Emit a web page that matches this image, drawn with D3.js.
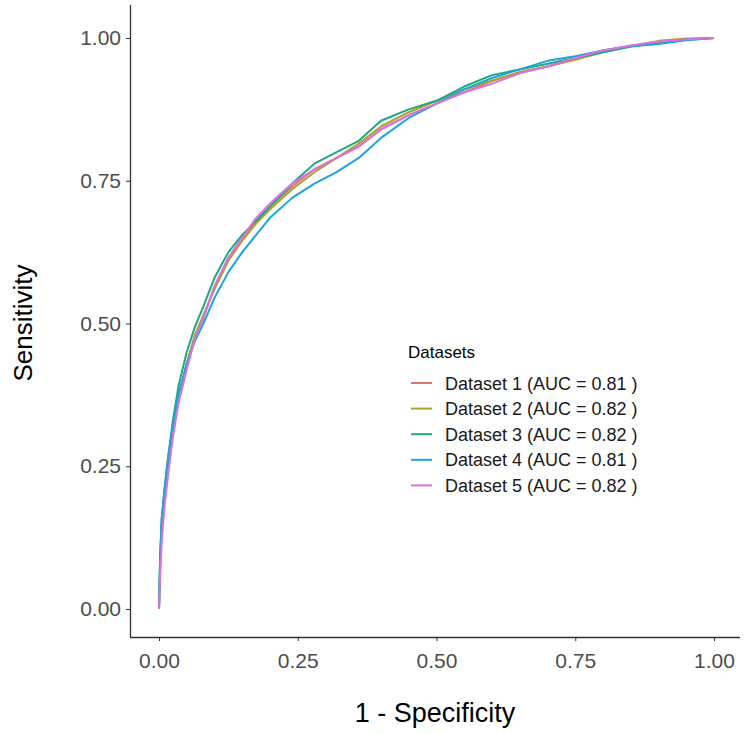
<!DOCTYPE html>
<html>
<head>
<meta charset="utf-8">
<script src="https://cdn.jsdelivr.net/npm/d3@7"></script>
<style>
  body { margin: 0; background: #fff; }
  text { font-family: "Liberation Sans", Arial, sans-serif; }
</style>
</head>
<body>
<script>
// shared false positive rate grid (1 - specificity)
var fprGrid = [0, 0.002, 0.005, 0.01, 0.017, 0.025, 0.035, 0.05, 0.065, 0.08,
  0.1, 0.125, 0.15, 0.175, 0.2, 0.24, 0.28, 0.32, 0.36, 0.4,
  0.45, 0.5, 0.55, 0.6, 0.65, 0.7, 0.75, 0.8, 0.85, 0.9, 0.95, 1];

// sensitivity per dataset
var tpr1 = [0, 0.08, 0.15, 0.20, 0.25, 0.31, 0.37, 0.43, 0.48, 0.51,
  0.565, 0.615, 0.65, 0.68, 0.705, 0.74, 0.77, 0.79, 0.81, 0.84,
  0.865, 0.885, 0.905, 0.925, 0.94, 0.95, 0.965, 0.978, 0.986, 0.993, 0.998, 1];
var tpr2 = [0, 0.07, 0.14, 0.19, 0.25, 0.31, 0.37, 0.43, 0.48, 0.515,
  0.56, 0.61, 0.645, 0.675, 0.70, 0.735, 0.765, 0.79, 0.815, 0.845,
  0.87, 0.89, 0.91, 0.925, 0.94, 0.95, 0.962, 0.975, 0.985, 0.995, 0.999, 1];
var tpr3 = [0, 0.09, 0.16, 0.21, 0.27, 0.33, 0.39, 0.45, 0.495, 0.53,
  0.58, 0.625, 0.655, 0.68, 0.705, 0.745, 0.78, 0.80, 0.82, 0.855,
  0.875, 0.89, 0.915, 0.935, 0.945, 0.955, 0.965, 0.975, 0.985, 0.99, 0.997, 1];
var tpr4 = [0, 0.09, 0.16, 0.21, 0.27, 0.32, 0.375, 0.43, 0.47, 0.50,
  0.545, 0.59, 0.625, 0.655, 0.685, 0.72, 0.745, 0.765, 0.79, 0.825,
  0.86, 0.885, 0.91, 0.93, 0.945, 0.96, 0.968, 0.978, 0.986, 0.99, 0.996, 1];
var tpr5 = [0, 0.06, 0.12, 0.18, 0.24, 0.30, 0.36, 0.42, 0.475, 0.51,
  0.565, 0.615, 0.65, 0.685, 0.71, 0.745, 0.77, 0.79, 0.81, 0.84,
  0.865, 0.885, 0.905, 0.92, 0.938, 0.95, 0.965, 0.978, 0.987, 0.994, 0.998, 1];

var seriesNames = ["Dataset 1 (AUC = 0.81 )", "Dataset 2 (AUC = 0.82 )",
  "Dataset 3 (AUC = 0.82 )", "Dataset 4 (AUC = 0.81 )", "Dataset 5 (AUC = 0.82 )"];
var seriesColors = ["#DC776F", "#A9A22A", "#1CA97F", "#1DA5D8", "#DB70DF"];
var tickValues = [0, 0.25, 0.5, 0.75, 1];

var W = 750, H = 734;

function main() {
  var allTpr = [tpr1, tpr2, tpr3, tpr4, tpr5];
  var series = allTpr.map(function(t, i) {
    return { name: seriesNames[i], color: seriesColors[i],
      values: fprGrid.map(function(f, j) { return [f, t[j]]; }) };
  });

  var svg = d3.select("body").append("svg")
    .attr("width", W)
    .attr("height", H);

  var x = d3.scaleLinear().domain([0, 1]).range([159, 714]);
  var y = d3.scaleLinear().domain([0, 1]).range([609, 38]);

  // axes
  var xAxis = d3.axisBottom(x).tickValues(tickValues)
    .tickFormat(d3.format(".2f")).tickSize(4).tickPadding(5);
  var yAxis = d3.axisLeft(y).tickValues(tickValues)
    .tickFormat(d3.format(".2f")).tickSize(4).tickPadding(5);

  var gx = svg.append("g").attr("transform", "translate(0,637)").call(xAxis);
  var gy = svg.append("g").attr("transform", "translate(130,0)").call(yAxis);

  gx.select(".domain").attr("d", "M130,0.5H740");
  gy.select(".domain").attr("d", "M0.5,5V637");

  [gx, gy].forEach(function(g) {
    g.select(".domain").attr("stroke", "#333").attr("stroke-width", 1.3);
    g.selectAll(".tick line").attr("stroke", "#333");
    g.selectAll(".tick text")
      .attr("fill", "#4d4d4d")
      .style("font-size", "21px")
      .style("font-family", "'Liberation Sans', Arial, sans-serif");
  });
  gx.selectAll(".tick text").attr("dy", "1.05em");

  // lines
  var line = d3.line()
    .x(function(d) { return x(d[0]); })
    .y(function(d) { return y(d[1]); });

  svg.selectAll("path.roc")
    .data(series)
    .enter()
    .append("path")
    .attr("class", "roc")
    .attr("d", function(d) { return line(d.values); })
    .attr("fill", "none")
    .attr("stroke", function(d) { return d.color; })
    .attr("stroke-width", 2)
    .attr("stroke-linejoin", "round");

  // axis titles
  svg.append("text")
    .attr("x", 435).attr("y", 722)
    .attr("text-anchor", "middle")
    .style("font-size", "27px")
    .attr("fill", "#000")
    .text("1 - Specificity");

  svg.append("text")
    .attr("transform", "translate(32,323) rotate(-90)")
    .attr("text-anchor", "middle")
    .style("font-size", "26px")
    .attr("fill", "#000")
    .text("Sensitivity");

  // legend
  var lg = svg.append("g");
  lg.append("text")
    .attr("x", 408).attr("y", 358)
    .style("font-size", "17px")
    .attr("fill", "#000")
    .text("Datasets");

  var items = lg.selectAll("g.item")
    .data(series)
    .enter()
    .append("g")
    .attr("class", "item")
    .attr("transform", function(d, i) { return "translate(0," + (383 + i * 25.6) + ")"; });

  items.append("line")
    .attr("x1", 411).attr("x2", 432)
    .attr("y1", 0).attr("y2", 0)
    .attr("stroke", function(d) { return d.color; })
    .attr("stroke-width", 2);

  items.append("text")
    .attr("x", 445).attr("y", 6.5)
    .style("font-size", "18px")
    .attr("fill", "#1a1a1a")
    .text(function(d) { return d.name; });
}
main();
</script>
</body>
</html>
